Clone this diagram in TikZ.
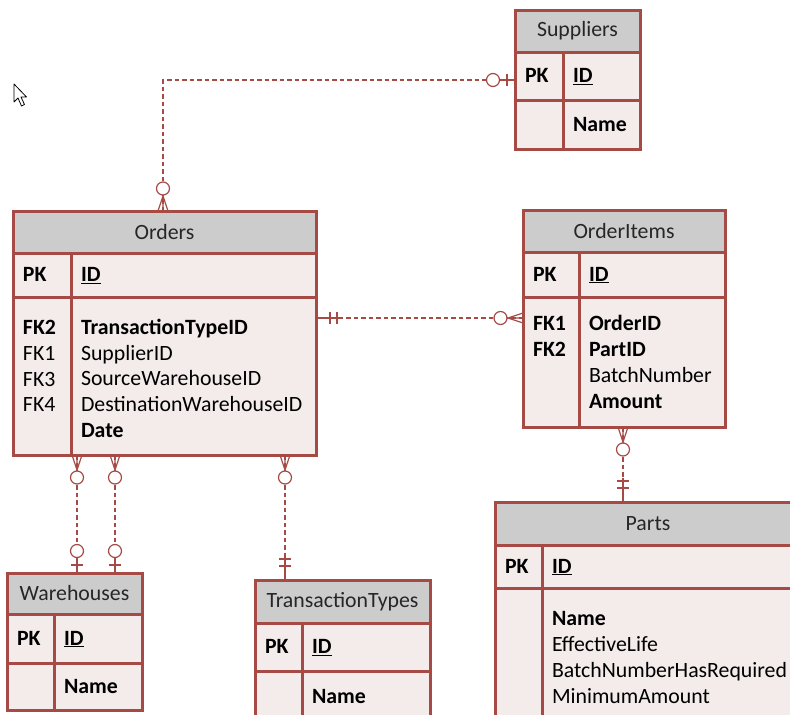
\documentclass[tikz,border=0pt]{standalone}
\usepackage{fontspec}
\setmainfont{Carlito}
\usepackage{tikz}
\definecolor{erdline}{RGB}{166,74,70}
\definecolor{erdfill}{RGB}{244,236,235}
\definecolor{erdhead}{RGB}{204,204,204}
\definecolor{erdtitle}{RGB}{38,38,38}

\begin{document}
\begin{tikzpicture}[x=1pt,y=-1pt]
\tikzset{every node/.style={font=\fontsize{21.8}{25.8}\selectfont},
         hdrcell/.style={draw=erdline,fill=erdhead,line width=3pt,anchor=north west,inner sep=0pt,outer sep=0pt,text=erdtitle},
         keycell/.style={draw=erdline,fill=erdfill,line width=3pt,anchor=north west,inner xsep=10pt,inner ysep=0pt,outer sep=0pt,align=left},
         pkcell/.style={keycell,text height=13pt,text depth=0pt},
         link/.style={draw=erdline,line width=1.2pt,dash pattern=on 4.5pt off 3pt},
         endmark/.style={draw=erdline,line width=1.2pt,solid},
         zmany/.pic={\draw[endmark] (0,-5) -- (15,0) -- (0,5) (0,0) -- (16,0); \draw[endmark,fill=white] (22.5,0) circle (6.5pt);},
         zone/.pic={\draw[endmark] (0,0) -- (16,0) (8,-6) -- (8,6); \draw[endmark,fill=white] (22,0) circle (6.5pt);},
         oneone/.pic={\draw[endmark] (0,0) -- (24,0) (14,-6) -- (14,6) (21,-6) -- (21,6);}}
\clip (0,0) rectangle (790,715);
\fill[white] (0,0) rectangle (790,715);

% Suppliers
\node[hdrcell,minimum width=125pt,minimum height=42pt] (suphdr) at (515,10) {Suppliers};
\node[pkcell,text width=28pt,minimum height=48pt] (supkey) at (suphdr.south west) {\textbf{PK}};
\node[pkcell,text width=57pt,minimum height=48pt] (supid) at (supkey.north east) {\textbf{\underline{ID}}};
\node[keycell,text width=28pt,minimum height=49pt] (supfk) at (supkey.south west) {};
\node[keycell,text width=57pt,minimum height=49pt] (supatt) at (supfk.north east) {\textbf{Name}};

% Orders
\node[hdrcell,minimum width=303pt,minimum height=42pt] (ordhdr) at (13,211) {Orders};
\node[pkcell,text width=38pt,minimum height=44pt] (ordkey) at (ordhdr.south west) {\textbf{PK}};
\node[pkcell,text width=225pt,minimum height=44pt] (ordid) at (ordkey.north east) {\textbf{\underline{ID}}};
\node[keycell,text width=38pt,minimum height=158pt,text height=20pt] (ordfk) at (ordkey.south west) {\textbf{FK2}\\FK1\\FK3\\FK4\\ \mbox{}};
\node[keycell,text width=225pt,minimum height=158pt,text height=20pt] (ordatt) at (ordfk.north east) {\textbf{TransactionTypeID}\\SupplierID\\SourceWarehouseID\\DestinationWarehouseID\\\textbf{Date}};

% OrderItems
\node[hdrcell,minimum width=202pt,minimum height=42pt] (oihdr) at (523,210) {OrderItems};
\node[pkcell,text width=36pt,minimum height=45pt] (oikey) at (oihdr.south west) {\textbf{PK}};
\node[pkcell,text width=126pt,minimum height=45pt] (oiid) at (oikey.north east) {\textbf{\underline{ID}}};
\node[keycell,text width=36pt,minimum height=130pt] (oifk) at (oikey.south west) {\textbf{FK1}\\\textbf{FK2}\\ \mbox{}\\ \mbox{}};
\node[keycell,text width=126pt,minimum height=130pt] (oiatt) at (oifk.north east) {\textbf{OrderID}\\\textbf{PartID}\\BatchNumber\\\textbf{Amount}};

% Parts
\node[hdrcell,minimum width=306pt,minimum height=43pt] (parthdr) at (495,502) {Parts};
\node[pkcell,text width=27pt,minimum height=43pt] (partkey) at (parthdr.south west) {\textbf{PK}};
\node[pkcell,text width=239pt,minimum height=43pt] (partid) at (partkey.north east) {\textbf{\underline{ID}}};
\node[keycell,text width=27pt,minimum height=139pt] (partfk) at (partkey.south west) {};
\node[keycell,text width=239pt,minimum height=139pt] (partatt) at (partfk.north east) {\textbf{Name}\\EffectiveLife\\BatchNumberHasRequired\\MinimumAmount};

% Warehouses
\node[hdrcell,minimum width=135pt,minimum height=41pt] (whhdr) at (7,573) {Warehouses};
\node[pkcell,text width=27pt,minimum height=49pt] (whkey) at (whhdr.south west) {\textbf{PK}};
\node[pkcell,text width=68pt,minimum height=49pt] (whid) at (whkey.north east) {\textbf{\underline{ID}}};
\node[keycell,text width=27pt,minimum height=47pt] (whfk) at (whkey.south west) {};
\node[keycell,text width=68pt,minimum height=47pt] (whatt) at (whfk.north east) {\textbf{Name}};

% TransactionTypes
\node[hdrcell,minimum width=175pt,minimum height=43pt] (tthdr) at (255,580) {TransactionTypes};
\node[pkcell,text width=27pt,minimum height=48pt] (ttkey) at (tthdr.south west) {\textbf{PK}};
\node[pkcell,text width=108pt,minimum height=48pt] (ttid) at (ttkey.north east) {\textbf{\underline{ID}}};
\node[keycell,text width=27pt,minimum height=52pt] (ttfk) at (ttkey.south west) {};
\node[keycell,text width=108pt,minimum height=52pt] (ttatt) at (ttfk.north east) {\textbf{Name}};

% relationships
\coordinate (o2s) at (163,0 |- ordhdr.north);
\coordinate (s2o) at (supkey.west |- 0,80);
\draw[link] (o2s) |- (s2o);
\pic[rotate=90] at (o2s) {zmany};
\pic[rotate=180] at (s2o) {zone};

\coordinate (o2i) at (ordatt.east |- 0,318);
\coordinate (i2o) at (oifk.west |- 0,318);
\draw[link] (o2i) -- (i2o);
\pic at (o2i) {oneone};
\pic[rotate=180] at (i2o) {zmany};

\coordinate (o2w1) at (77,0 |- ordatt.south);
\coordinate (w2o1) at (77,0 |- whhdr.north);
\draw[link] (o2w1) -- (w2o1);
\pic[rotate=-90] at (o2w1) {zmany};
\pic[rotate=90] at (w2o1) {zone};

\coordinate (o2w2) at (115,0 |- ordatt.south);
\coordinate (w2o2) at (115,0 |- whhdr.north);
\draw[link] (o2w2) -- (w2o2);
\pic[rotate=-90] at (o2w2) {zmany};
\pic[rotate=90] at (w2o2) {zone};

\coordinate (o2t) at (285,0 |- ordatt.south);
\coordinate (t2o) at (285,0 |- tthdr.north);
\draw[link] (o2t) -- (t2o);
\pic[rotate=-90] at (o2t) {zmany};
\pic[rotate=90] at (t2o) {oneone};

\coordinate (i2p) at (623,0 |- oiatt.south);
\coordinate (p2i) at (623,0 |- parthdr.north);
\draw[link] (i2p) -- (p2i);
\pic[rotate=-90] at (i2p) {zmany};
\pic[rotate=90] at (p2i) {oneone};

% mouse pointer
\draw[black,fill=white,line width=0.8pt,line join=round] (14,84) -- (14,102) -- (18,98) -- (21.5,106) -- (24.5,104.5) -- (21,97) -- (26.5,97) -- cycle;
\end{tikzpicture}
\end{document}
